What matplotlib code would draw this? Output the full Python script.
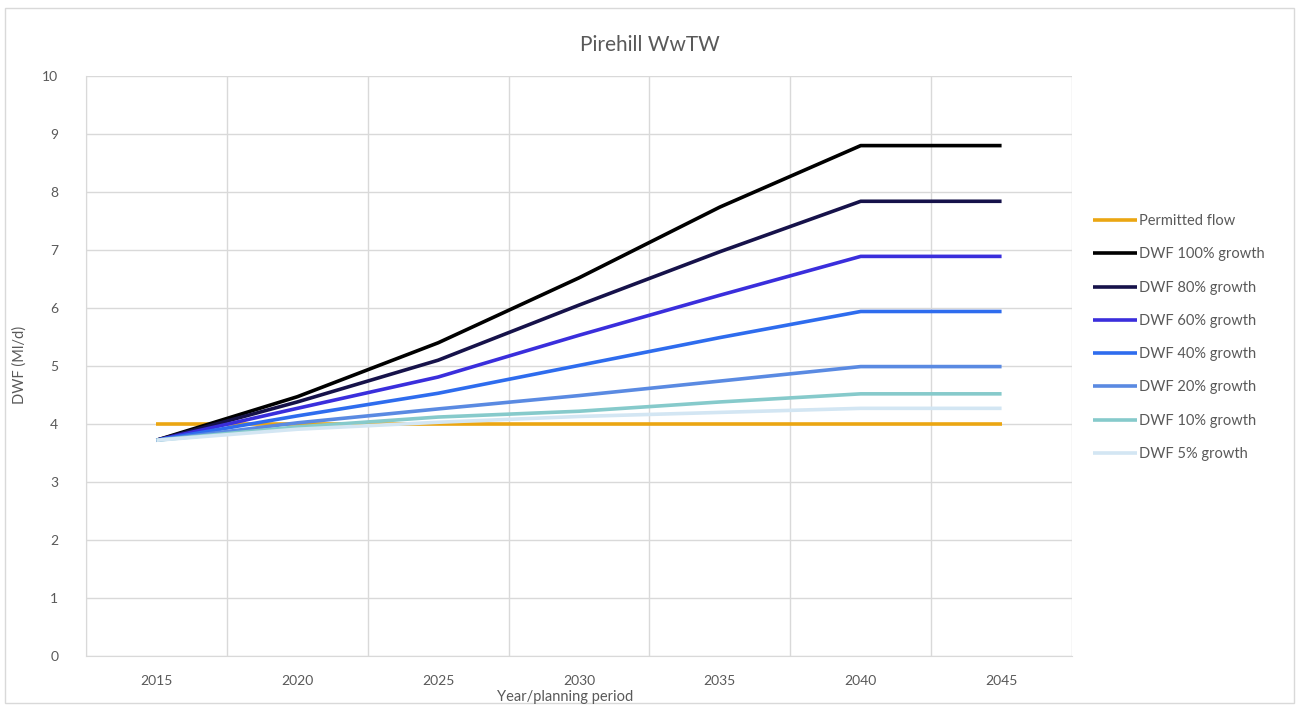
import numpy as np
import matplotlib
matplotlib.use('Agg')
from matplotlib import pyplot as plt
from matplotlib.patches import Rectangle

# data
years = ['2015', '2020', '2025', '2030', '2035', '2040', '2045']
permitted = [4.0, 4.0, 4.0, 4.0, 4.0, 4.0, 4.0]
dwf_100 = [3.72, 4.47, 5.40, 6.52, 7.74, 8.80, 8.80]
dwf_80 = [3.72, 4.38, 5.10, 6.05, 6.97, 7.84, 7.84]
dwf_60 = [3.72, 4.27, 4.81, 5.53, 6.22, 6.89, 6.89]
dwf_40 = [3.72, 4.14, 4.53, 5.01, 5.49, 5.94, 5.94]
dwf_20 = [3.72, 4.02, 4.26, 4.49, 4.74, 4.99, 4.99]
dwf_10 = [3.72, 3.95, 4.12, 4.22, 4.38, 4.52, 4.52]
dwf_5 = [3.72, 3.91, 4.03, 4.13, 4.20, 4.27, 4.27]

labels = ['Permitted flow', 'DWF 100% growth', 'DWF 80% growth', 'DWF 60% growth',
          'DWF 40% growth', 'DWF 20% growth', 'DWF 10% growth', 'DWF 5% growth']
series = [permitted, dwf_100, dwf_80, dwf_60, dwf_40, dwf_20, dwf_10, dwf_5]
colors = ['#EBA612', '#000000', '#16124A', '#3A2EDC', '#2E6CEE',
          '#5A8AE2', '#86CACB', '#D3E6F3']

plt.rcParams['font.family'] = ['Lato', 'DejaVu Sans']
grey = '#595959'

fig = plt.figure(figsize=(12.99, 7.07), dpi=100)
fig.patches.append(Rectangle((0.004, 0.006), 0.992, 0.982, transform=fig.transFigure,
                             fill=False, edgecolor='#d9d9d9', lw=1.0))

ax = fig.add_axes([86 / 1299, 51 / 707, 986 / 1299, 580 / 707])
x = np.arange(len(years))
for vals, lab, col in zip(series, labels, colors):
    ax.plot(x, vals, color=col, lw=2.6, label=lab, solid_capstyle='butt')

ax.set_xlim(-0.5, len(years) - 0.5)
ax.set_ylim(0, 10)
ax.set_yticks(np.arange(0, 11, 1))
ax.set_xticks(x)
ax.set_xticklabels(years)
ax.set_xticks(np.arange(-0.5, len(years), 1), minor=True)
ax.grid(axis='y', which='major', color='#d9d9d9', lw=1)
ax.grid(axis='x', which='minor', color='#d9d9d9', lw=1)
ax.set_axisbelow(True)
for s in ['top', 'right']:
    ax.spines[s].set_visible(False)
for s in ['left', 'bottom']:
    ax.spines[s].set_color('#d9d9d9')
ax.tick_params(which='both', length=0, colors=grey, labelsize=10)
ax.tick_params(axis='x', pad=14)
ax.tick_params(axis='y', pad=20)

fig.text(0.5, 1 - 45 / 707, 'Pirehill WwTW', ha='center', va='center', fontsize=15, color=grey)
fig.text(565 / 1299, 1 - 697 / 707, 'Year/planning period', ha='center', va='center',
         fontsize=10.5, color=grey)
fig.text(20 / 1299, 1 - 365 / 707, 'DWF (Ml/d)', ha='center', va='center', rotation=90,
         fontsize=10.5, color=grey)

leg = fig.legend(loc='upper left', bbox_to_anchor=(1080 / 1299, 1 - 201 / 707), frameon=False,
                 fontsize=10.5, labelspacing=1.32, handlelength=3.0, handletextpad=0.15)
for t in leg.get_texts():
    t.set_color(grey)

fig.savefig('out.png', dpi=100)
